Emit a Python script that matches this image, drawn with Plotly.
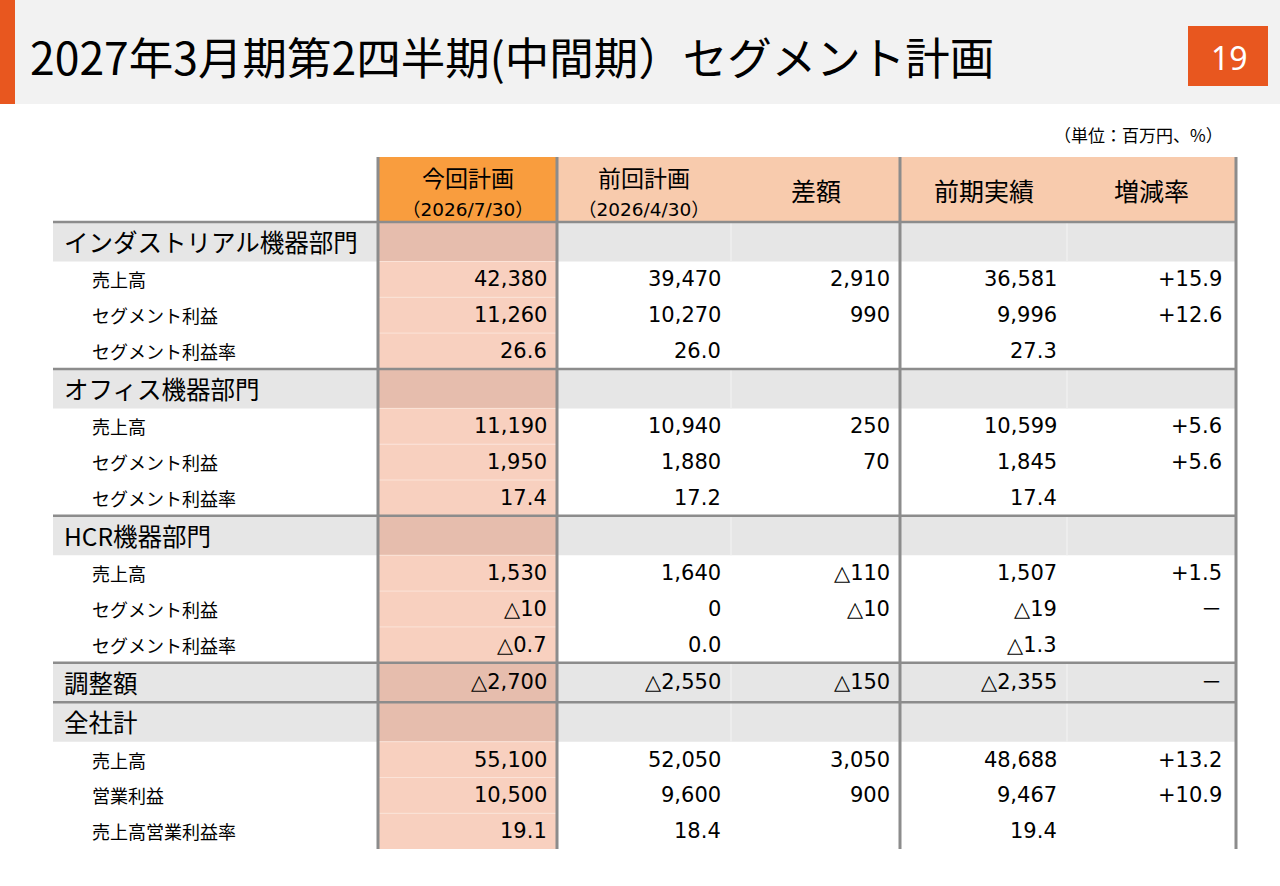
import plotly.graph_objects as go

# ---- data ----
title_text = "2027年3月期第2四半期(中間期）セグメント計画"
page_no = "19"
unit_text = "（単位：百万円、%）"

columns = ["今回計画", "前回計画", "差額", "前期実績", "増減率"]
column_dates = ["（2026/7/30）", "（2026/4/30）", "", "", ""]

row_labels = [
    "インダストリアル機器部門", "売上高", "セグメント利益", "セグメント利益率",
    "オフィス機器部門", "売上高", "セグメント利益", "セグメント利益率",
    "HCR機器部門", "売上高", "セグメント利益", "セグメント利益率",
    "調整額",
    "全社計", "売上高", "営業利益", "売上高営業利益率",
]
# head = segment heading, adj = heading row with values, amt = amount, rate = ratio
row_kinds = [
    "head", "amt", "amt", "rate",
    "head", "amt", "amt", "rate",
    "head", "amt", "amt", "rate",
    "adj",
    "head", "amt", "amt", "rate",
]

current_plan = [None, 42380, 11260, 26.6, None, 11190, 1950, 17.4, None, 1530, -10, -0.7, -2700, None, 55100, 10500, 19.1]
previous_plan = [None, 39470, 10270, 26.0, None, 10940, 1880, 17.2, None, 1640, 0, 0.0, -2550, None, 52050, 9600, 18.4]
difference = [None, 2910, 990, None, None, 250, 70, None, None, -110, -10, None, -150, None, 3050, 900, None]
prior_actual = [None, 36581, 9996, 27.3, None, 10599, 1845, 17.4, None, 1507, -19, -1.3, -2355, None, 48688, 9467, 19.4]
growth_rate = [None, 15.9, 12.6, None, None, 5.6, 5.6, None, None, 1.5, "－", None, "－", None, 13.2, 10.9, None]

# ---- layout / style ----
W, H = 1280, 886
ORANGE = "#E8571F"
TITLE_BG = "#F2F2F2"
HDR_CUR = "#F99D3E"
HDR_OTHER = "#F8CBAD"
BODY_CUR = "#F8D0BF"
HEAD_CUR = "#E6BDAD"
HEAD_GREY = "#E6E6E6"
LINE = "#8C8C8C"
JP = "Noto Sans CJK JP"
NUM = "DejaVu Sans, Noto Sans CJK JP"

col_edges = [53, 378, 557, 731, 900, 1067, 1236]
table_top = 157
header_bottom = 222
head_h = 39.5
item_h = 35.8


def fmt(v, kind):
    if v is None:
        return ""
    if isinstance(v, str):
        return v
    s = f"{abs(v):,.1f}" if kind == "rate" else f"{abs(v):,.0f}"
    return ("△" if v < 0 else "") + s


def fmt_growth(v):
    if v is None:
        return ""
    if isinstance(v, str):
        return v
    return f"+{v:.1f}"


# row positions
row_tops = []
y = header_bottom
for k in row_kinds:
    row_tops.append(y)
    y += head_h if k in ("head", "adj") else item_h
row_tops.append(y)
table_bottom = y

shapes = []
annotations = []


def rect(x0, y0, x1, y1, fill):
    shapes.append(dict(type="rect", xref="x", yref="y", x0=x0, y0=y0, x1=x1, y1=y1,
                       fillcolor=fill, line=dict(width=0), layer="below"))


def hline(x0, x1, yy, color, w):
    shapes.append(dict(type="line", xref="x", yref="y", x0=x0, x1=x1, y0=yy, y1=yy,
                       line=dict(color=color, width=w)))


def vline(xx, y0, y1, color, w):
    shapes.append(dict(type="line", xref="x", yref="y", x0=xx, x1=xx, y0=y0, y1=y1,
                       line=dict(color=color, width=w)))


def text(x, y, t, size, family=JP, color="black", xanchor="left"):
    annotations.append(dict(x=x, y=y, xref="x", yref="y", text=t, showarrow=False,
                            xanchor=xanchor, yanchor="middle", borderpad=0,
                            font=dict(family=family, size=size, color=color)))


# title bar
rect(0, 0, W, 104, TITLE_BG)
rect(0, 0, 15, 104, ORANGE)
text(29, 55, title_text, 44.5)
rect(1188, 26, 1268, 86, ORANGE)
text(1229, 57, page_no, 32, family="Noto Sans", color="white", xanchor="center")
text(1224, 134, unit_text, 17, xanchor="right")

# header cells
for i, name in enumerate(columns):
    x0, x1 = col_edges[i + 1], col_edges[i + 2]
    rect(x0, table_top, x1, header_bottom, HDR_CUR if i == 0 else HDR_OTHER)
    cx = (x0 + x1) / 2
    if column_dates[i]:
        text(cx, 177, name, 23, xanchor="center")
        text(cx, 209.5, column_dates[i], 18.5, family=NUM, xanchor="center")
    else:
        text(cx, 190, name, 25, xanchor="center")

# body cells
value_cols = [current_plan, previous_plan, difference, prior_actual]
for r, (label, kind) in enumerate(zip(row_labels, row_kinds)):
    y0, y1 = row_tops[r], row_tops[r + 1]
    cy = (y0 + y1) / 2
    is_head = kind in ("head", "adj")
    if is_head:
        rect(col_edges[0], y0, col_edges[-1], y1, HEAD_GREY)
        rect(col_edges[1], y0, col_edges[2], y1, HEAD_CUR)
        text(63, cy, label, 24.5)
    else:
        rect(col_edges[1], y0, col_edges[2], y1, BODY_CUR)
        text(91, cy, label, 18)
    for c, vals in enumerate(value_cols):
        s = fmt(vals[r], kind)
        if s:
            text(col_edges[c + 2] - 9, cy, s, 21, family=NUM, xanchor="right")
    g = fmt_growth(growth_rate[r])
    if g:
        text(col_edges[6] - 13, cy, g, 21, family=NUM, xanchor="right")

# faint cell separators
for r in range(1, len(row_kinds)):
    hline(col_edges[1], col_edges[2], row_tops[r], "#FBE3D8", 1)
for r, kind in enumerate(row_kinds):
    if kind in ("head", "adj"):
        for xx in (col_edges[3], col_edges[5]):
            vline(xx, row_tops[r], row_tops[r + 1], "#EFEFEF", 1.5)

# grey rules
hline(col_edges[0], col_edges[-1], header_bottom, LINE, 2.5)
for r, kind in enumerate(row_kinds):
    if kind in ("head", "adj") and r > 0:
        hline(col_edges[0], col_edges[-1], row_tops[r], LINE, 2.5)
for xx in (col_edges[1], col_edges[2], col_edges[4], col_edges[6]):
    vline(xx, table_top, table_bottom, LINE, 3)

fig = go.Figure()
fig.add_trace(go.Scatter(x=[0, W], y=[0, H], mode="markers", marker=dict(opacity=0), hoverinfo="skip"))
fig.update_layout(
    width=W, height=H,
    margin=dict(l=0, r=0, t=0, b=0),
    paper_bgcolor="white", plot_bgcolor="white",
    showlegend=False,
    xaxis=dict(range=[0, W], visible=False, fixedrange=True),
    yaxis=dict(range=[H, 0], visible=False, fixedrange=True),
    shapes=shapes,
    annotations=annotations,
)

# drop the browser's default page margin so the slide sits at (0, 0)
fig.write_html("out.html", config={"displayModeBar": False},
               post_script="document.body.style.margin='0';")
